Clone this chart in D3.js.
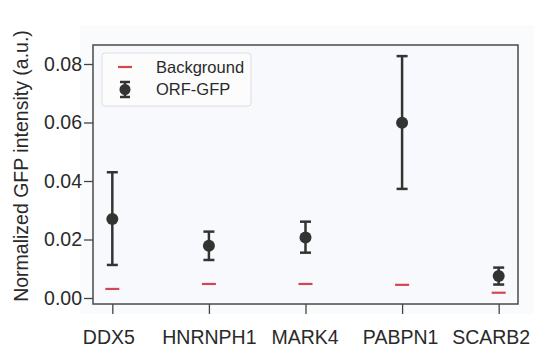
<!DOCTYPE html>
<html>
<head>
<meta charset="utf-8">
<script src="https://cdn.jsdelivr.net/npm/d3@7"></script>
<style>
  body { margin: 0; background: #fff; }
  text { font-family: "Liberation Sans", Arial, sans-serif; }
</style>
</head>
<body>
<svg id="chart" width="534" height="349"></svg>
<script>
// data
const genes = ['DDX5', 'HNRNPH1', 'MARK4', 'PABPN1', 'SCARB2'];
const orfMean = [0.027, 0.0179, 0.0207, 0.0599, 0.0075];
const orfLow = [0.0113, 0.013, 0.0155, 0.0373, 0.0046];
const orfHigh = [0.043, 0.0227, 0.0261, 0.0827, 0.0104];
const background = [0.0031, 0.0048, 0.0048, 0.0045, 0.0018];
const yTicks = [0, 0.02, 0.04, 0.06, 0.08];

const svg = d3.select('#chart');
const margin = { left: 93, right: 16, top: 45, bottom: 45 };
const W = 534, H = 349;
const dark = '#323432';
const red = '#d24750';
const ink = '#2a2a2a';

// faint figure patch behind the axes
svg.append('rect')
    .attr('x', 80).attr('y', 25)
    .attr('width', W - 80).attr('height', 314 - 25)
    .attr('fill', '#fafbfd');

const x = d3.scalePoint()
    .domain(genes)
    .range([margin.left, W - margin.right])
    .padding(0.2);

const y = d3.scaleLinear()
    .domain([-0.00205, 0.0865])
    .range([H - margin.bottom, margin.top]);

// axes background
svg.append('rect')
    .attr('x', margin.left).attr('y', margin.top)
    .attr('width', W - margin.left - margin.right)
    .attr('height', H - margin.top - margin.bottom)
    .attr('fill', '#f8f9fc');

// y axis
const yAxis = svg.append('g')
    .attr('transform', `translate(${margin.left},0)`)
    .call(d3.axisLeft(y).tickValues(yTicks).tickFormat(d3.format('.2f')).tickSize(9).tickPadding(2));
yAxis.select('.domain').remove();
yAxis.selectAll('line').attr('stroke', '#444').attr('stroke-width', 1.3);
yAxis.selectAll('text').attr('font-size', 19.5).attr('fill', ink);

// x axis
const xAxis = svg.append('g')
    .attr('transform', `translate(0,${H - margin.bottom})`)
    .call(d3.axisBottom(x).tickSize(10).tickPadding(16));
xAxis.select('.domain').remove();
xAxis.selectAll('line').attr('stroke', '#444').attr('stroke-width', 1.3);
// labels sit a little left of their ticks in the reference; keep the last one inside
const labelShift = [-4, 0, -1, -2, -8];
xAxis.selectAll('text')
    .attr('font-size', 19.5)
    .attr('fill', ink)
    .attr('dx', (d, i) => labelShift[i]);

// frame
svg.append('rect')
    .attr('x', margin.left).attr('y', margin.top)
    .attr('width', W - margin.left - margin.right)
    .attr('height', H - margin.top - margin.bottom)
    .attr('fill', 'none')
    .attr('stroke', '#4a4a4a')
    .attr('stroke-width', 1.5);

// y label
svg.append('text')
    .attr('transform', `translate(28,166) rotate(-90)`)
    .attr('text-anchor', 'middle')
    .attr('font-size', 19.5)
    .attr('fill', ink)
    .text('Normalized GFP intensity (a.u.)');

const idx = genes.map((g, i) => i);

// background marks
svg.append('g').selectAll('line')
    .data(idx)
    .enter()
    .append('line')
    .attr('x1', i => x(genes[i]) - 7)
    .attr('x2', i => x(genes[i]) + 7)
    .attr('y1', i => y(background[i]))
    .attr('y2', i => y(background[i]))
    .attr('stroke', red)
    .attr('stroke-width', 2.2);

// error bars
const bars = svg.append('g');
bars.selectAll('line.v')
    .data(idx)
    .enter()
    .append('line')
    .attr('class', 'v')
    .attr('x1', i => x(genes[i])).attr('x2', i => x(genes[i]))
    .attr('y1', i => y(orfLow[i])).attr('y2', i => y(orfHigh[i]))
    .attr('stroke', dark).attr('stroke-width', 2.5);
[orfLow, orfHigh].forEach(arr => {
    bars.selectAll(null)
        .data(idx)
        .enter()
        .append('line')
        .attr('x1', i => x(genes[i]) - 5.5).attr('x2', i => x(genes[i]) + 5.5)
        .attr('y1', i => y(arr[i])).attr('y2', i => y(arr[i]))
        .attr('stroke', dark).attr('stroke-width', 2.5);
});
bars.selectAll('circle')
    .data(idx)
    .enter()
    .append('circle')
    .attr('cx', i => x(genes[i]))
    .attr('cy', i => y(orfMean[i]))
    .attr('r', 6)
    .attr('fill', dark);

// legend
const lg = svg.append('g');
lg.append('rect')
    .attr('x', 102).attr('y', 53)
    .attr('width', 149).attr('height', 53)
    .attr('rx', 3)
    .attr('fill', '#fcfcfd')
    .attr('stroke', '#dedede')
    .attr('stroke-width', 1);
lg.append('line')
    .attr('x1', 118).attr('x2', 132).attr('y1', 67).attr('y2', 67)
    .attr('stroke', red).attr('stroke-width', 2.2);
lg.append('text')
    .attr('x', 156).attr('y', 72.5)
    .attr('font-size', 16.5).attr('fill', ink)
    .text('Background');
lg.append('line')
    .attr('x1', 125).attr('x2', 125).attr('y1', 82).attr('y2', 97)
    .attr('stroke', dark).attr('stroke-width', 2.5);
lg.append('line')
    .attr('x1', 120).attr('x2', 130).attr('y1', 82).attr('y2', 82)
    .attr('stroke', dark).attr('stroke-width', 2.5);
lg.append('line')
    .attr('x1', 120).attr('x2', 130).attr('y1', 97).attr('y2', 97)
    .attr('stroke', dark).attr('stroke-width', 2.5);
lg.append('circle')
    .attr('cx', 125).attr('cy', 89.5).attr('r', 5.5).attr('fill', dark);
lg.append('text')
    .attr('x', 156).attr('y', 95)
    .attr('font-size', 16.5).attr('fill', ink)
    .text('ORF-GFP');
</script>
</body>
</html>
